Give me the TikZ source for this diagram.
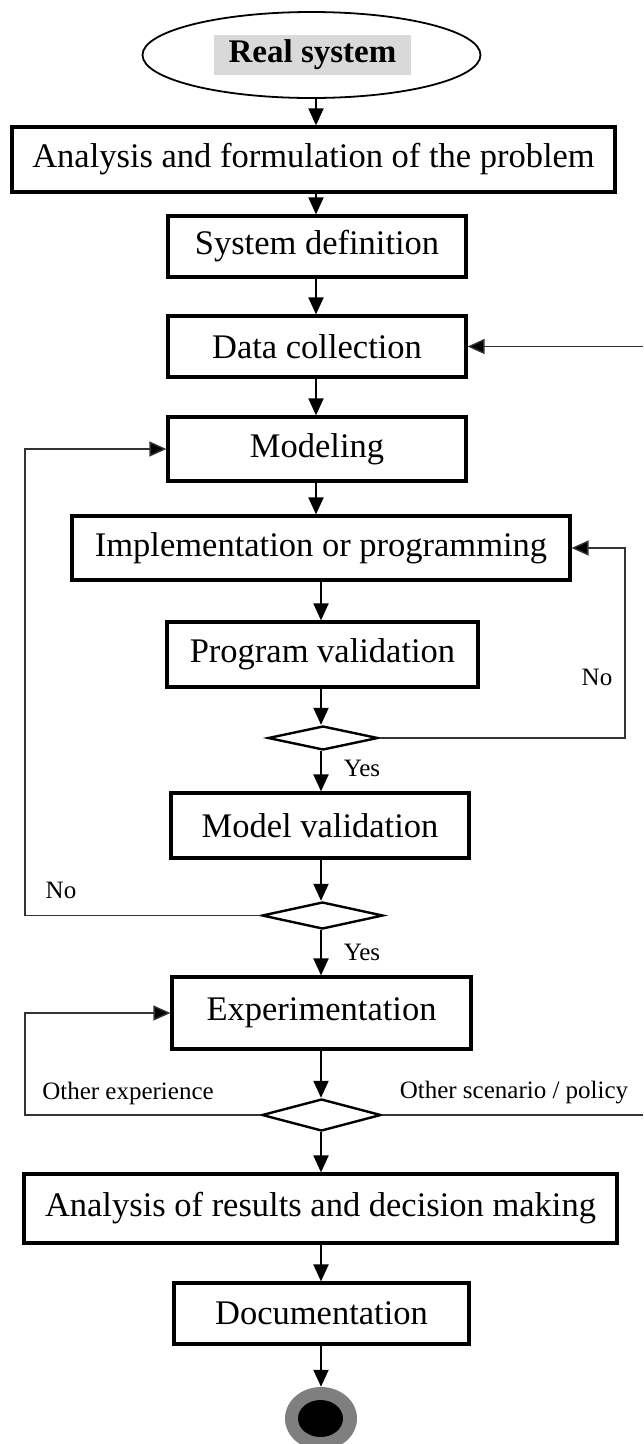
\documentclass[tikz,border=0pt]{standalone}
\usepackage{fontspec}
\setmainfont{Liberation Serif}
\usetikzlibrary{shapes.geometric,arrows.meta,calc}
\definecolor{lbl}{HTML}{D9D9D9}
\definecolor{ringgray}{HTML}{7F7F7F}
\begin{document}
\begin{tikzpicture}[x=1pt,y=-1pt,
  box/.style={draw,line width=3.2pt,inner sep=0pt,font=\fontsize{34.5}{40}\selectfont},
  dia/.style={draw,line width=2.4pt,diamond,inner sep=0pt},
  flow/.style={line width=2pt,-{Triangle[length=17pt,width=15pt]}},
  back/.style={line width=1.4pt,draw=black!80},
  backarr/.style={back,-{Triangle[length=17pt,width=15pt,fill=black]}},
  small/.style={font=\fontsize{25}{30}\selectfont,inner sep=0pt}]
\useasboundingbox (0,0) rectangle (643,1444);
\coordinate (ax) at (316,0);
\coordinate (bx) at (321,0);
% start
\node[draw,ellipse,line width=1.8pt,minimum width=338pt,minimum height=86pt] (rs) at (311.5,55) {};
\node[fill=lbl,inner xsep=15pt,inner ysep=5pt,font=\fontsize{33}{38}\selectfont\bfseries] (rsl) at (312.5,55) {Real system};
% boxes
\node[box,minimum width=603pt,minimum height=65pt] (b1) at (313.5,159.5) {Analysis and formulation of the problem};
\node[box,minimum width=298pt,minimum height=61pt] (b2) at (317,246.5) {System definition};
\node[box,minimum width=298pt,minimum height=61pt] (b3) at (317,346.5) {Data collection};
\node[box,minimum width=298pt,minimum height=64pt] (b4) at (317,449) {Modeling};
\node[box,minimum width=498pt,minimum height=64pt] (b5) at (321,548) {Implementation or programming};
\node[box,minimum width=311pt,minimum height=65pt] (b6) at (322.5,654.5) {Program validation};
\node[dia,minimum width=110pt,minimum height=24pt] (d1) at (323,738) {};
\node[box,minimum width=298pt,minimum height=65pt] (b7) at (320,825.5) {Model validation};
\node[dia,minimum width=121pt,minimum height=27pt] (d2) at (322.5,915.5) {};
\node[box,minimum width=299pt,minimum height=72pt] (b8) at (321.5,1013) {Experimentation};
\node[dia,minimum width=119pt,minimum height=32pt] (d3) at (321.5,1115) {};
\node[box,minimum width=593pt,minimum height=69pt] (b9) at (320.5,1208.5) {Analysis of results and decision making};
\node[box,minimum width=295pt,minimum height=61pt] (b10) at (321.5,1313.5) {Documentation};
% end
\node[ellipse,fill=ringgray,minimum width=72pt,minimum height=63pt,inner sep=0pt] (endo) at (321,1418.5) {};
\node[ellipse,fill=black,minimum width=45pt,minimum height=37pt,inner sep=0pt] (endi) at (320.5,1418.5) {};
% main flow
\draw[flow] (rs.south -| ax) -- (b1.north -| ax);
\draw[flow] (b1.south -| ax) -- (b2.north -| ax);
\draw[flow] (b2.south -| ax) -- (b3.north -| ax);
\draw[flow] (b3.south -| ax) -- (b4.north -| ax);
\draw[flow] (b4.south -| ax) -- (b5.north -| ax);
\draw[flow] (b5.south -| bx) -- (b6.north -| bx);
\draw[flow] (b6.south -| bx) -- (d1.north -| bx);
\draw[flow] (d1.south -| bx) -- (b7.north -| bx);
\draw[flow] (b7.south -| bx) -- (d2.north -| bx);
\draw[flow] (d2.south -| bx) -- (b8.north -| bx);
\draw[flow] (b8.south -| bx) -- (d3.north -| bx);
\draw[flow] (d3.south -| bx) -- (b9.north -| bx);
\draw[flow] (b9.south -| bx) -- (b10.north -| bx);
\draw[flow] (b10.south -| bx) -- (endo.north -| bx);
% loops
\coordinate (rx) at (625,0);
\coordinate (lx) at (25,0);
\coordinate (ex) at (643,0);
\draw[backarr] (d1.east) -- (d1.east -| rx) -- (b5.east -| rx) -- (b5.east);
\draw[backarr] (d2.west) -- (d2.west -| lx) -- (b4.west -| lx) -- (b4.west);
\draw[backarr] (d3.west) -- (d3.west -| lx) -- (b8.west -| lx) -- (b8.west);
\draw[back] (d3.east) -- (d3.east -| ex);
\draw[backarr] (b3.east -| ex) -- (b3.east);
% labels
\node[small] (no1) at (597,677) {No};
\node[small] (yes1) at (362,768) {Yes};
\node[small] (no2) at (61,890) {No};
\node[small] (yes2) at (362,952) {Yes};
\node[small] (oe) at (128,1093) {Other experience};
\node[small] (os) at (514,1093) {Other scenario / policy};
\end{tikzpicture}
\end{document}
